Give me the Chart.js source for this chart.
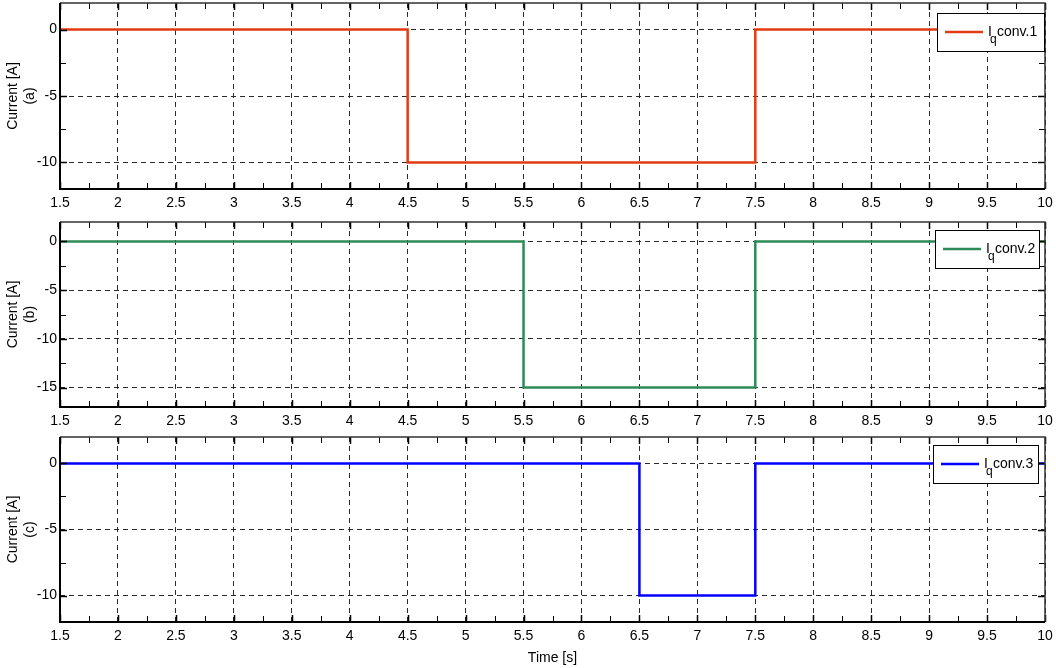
<!DOCTYPE html>
<html>
<head>
<meta charset="utf-8">
<script src="https://cdn.jsdelivr.net/npm/chart.js@4/dist/chart.umd.min.js"></script>
<style>
  html, body { margin: 0; padding: 0; background: #fff; }
  #wrap { position: relative; width: 1056px; height: 668px; overflow: hidden; }
  .panel { position: absolute; left: 0; width: 1056px; }
  canvas { display: block; }
</style>
</head>
<body>
<div id="wrap">
  <div class="panel" style="top:0px;height:215px"><canvas id="c1" width="1056" height="215"></canvas></div>
  <div class="panel" style="top:215px;height:215px"><canvas id="c2" width="1056" height="215"></canvas></div>
  <div class="panel" style="top:430px;height:238px"><canvas id="c3" width="1056" height="238"></canvas></div>
</div>
<script>
// Time axis ticks (s)
const timeTicks = [1.5, 2, 2.5, 3, 3.5, 4, 4.5, 5, 5.5, 6, 6.5, 7, 7.5, 8, 8.5, 9, 9.5, 10];
const timeMinorTicks = [1.75, 2.25, 2.75, 3.25, 3.75, 4.25, 4.75, 5.25, 5.75, 6.25, 6.75, 7.25, 7.75, 8.25, 8.75, 9.25, 9.75];

// Quadrature current reference of each converter (step changes)
const conv1Time = [1.5, 4.5, 7.5, 10];
const conv1Current = [0, -10, 0, 0];
const conv2Time = [1.5, 5.5, 7.5, 10];
const conv2Current = [0, -15, 0, 0];
const conv3Time = [1.5, 6.5, 7.5, 10];
const conv3Current = [0, -10, 0, 0];

// Current axis ticks (A)
const currentTicks1 = [-10, -5, 0];
const currentMinor1 = [-12.5, -7.5, -2.5, 2.5];
const currentTicks2 = [-15, -10, -5, 0];
const currentMinor2 = [-17.5, -12.5, -7.5, -2.5, 2.5];
const currentTicks3 = [-10, -5, 0];
const currentMinor3 = [-12.5, -7.5, -2.5, 2.5];

const FONT = 'Liberation Sans, Arial, Helvetica, sans-serif';

// Box around the plot area with inward major/minor ticks
const framePlugin = {
  id: 'frame',
  afterDatasetsDraw(chart) {
    const { ctx, chartArea: a, scales: { x, y } } = chart;
    const cfg = chart.options.plugins.frame;
    ctx.save();
    ctx.strokeStyle = '#000';
    const drawX = (vals, len, w) => {
      ctx.lineWidth = w;
      ctx.beginPath();
      vals.forEach(v => {
        const px = Math.round(x.getPixelForValue(v)) + 0.5;
        ctx.moveTo(px, a.bottom); ctx.lineTo(px, a.bottom - len);
        ctx.moveTo(px, a.top); ctx.lineTo(px, a.top + len);
      });
      ctx.stroke();
    };
    const drawY = (vals, len, w) => {
      ctx.lineWidth = w;
      ctx.beginPath();
      vals.forEach(v => {
        if (v < y.min || v > y.max) return;
        const py = Math.round(y.getPixelForValue(v)) + 0.5;
        ctx.moveTo(a.left, py); ctx.lineTo(a.left + len, py);
        ctx.moveTo(a.right, py); ctx.lineTo(a.right - len, py);
      });
      ctx.stroke();
    };
    drawX(timeTicks, 7, 1.5);
    drawX(timeMinorTicks, 6, 1);
    drawY(cfg.major, 7, 1.5);
    drawY(cfg.minor, 6, 1);
    // top and right edges
    ctx.lineWidth = 1.5;
    ctx.strokeStyle = '#333';
    ctx.beginPath();
    ctx.moveTo(a.left, a.top); ctx.lineTo(a.right, a.top); ctx.lineTo(a.right, a.bottom);
    ctx.stroke();
    // left and bottom axes
    ctx.lineWidth = 2;
    ctx.strokeStyle = '#000';
    ctx.beginPath();
    ctx.moveTo(a.left, a.top); ctx.lineTo(a.left, a.bottom); ctx.lineTo(a.right, a.bottom);
    ctx.stroke();
    ctx.restore();
  },
  afterDraw(chart) {
    // legend box: I_q conv.N
    const { ctx, chartArea: a } = chart;
    const cfg = chart.options.plugins.frame;
    const ds = chart.data.datasets[0];
    const L = a.right - cfg.legendDx, T = a.top + cfg.legendDy, W = cfg.legendW, H = 38;
    ctx.save();
    ctx.fillStyle = '#fff';
    ctx.fillRect(L, T, W, H);
    ctx.strokeStyle = '#000';
    ctx.lineWidth = 1;
    ctx.strokeRect(L + 0.5, T + 0.5, W, H);
    ctx.strokeStyle = ds.borderColor;
    ctx.lineWidth = 2.5;
    ctx.beginPath();
    ctx.moveTo(L + 8, T + 19); ctx.lineTo(L + 46, T + 19);
    ctx.stroke();
    ctx.fillStyle = '#000';
    ctx.textBaseline = 'alphabetic';
    ctx.textAlign = 'left';
    ctx.font = '14px ' + FONT;
    ctx.fillText(ds.labelMain, L + 51, T + 23);
    ctx.font = '12px ' + FONT;
    ctx.fillText(ds.labelSub, L + 53, T + 30);
    ctx.font = '14px ' + FONT;
    ctx.fillText(ds.labelRest, L + 60, T + 23);
    ctx.restore();
  }
};

function makePanel(id, p) {
  const points = p.time.map((t, i) => ({ x: t, y: p.current[i] }));
  return new Chart(document.getElementById(id), {
    type: 'line',
    data: {
      datasets: [{
        label: p.labelMain + p.labelSub + ' ' + p.labelRest,
        labelMain: p.labelMain,
        labelSub: p.labelSub,
        labelRest: p.labelRest,
        data: points,
        borderColor: p.color,
        backgroundColor: p.color,
        borderWidth: 2.5,
        pointRadius: 0,
        stepped: 'before',
        fill: false
      }]
    },
    options: {
      responsive: false,
      animation: false,
      events: [],
      layout: { padding: { top: p.padTop, right: 11, bottom: 0, left: 0 } },
      plugins: {
        legend: { display: false },
        tooltip: { enabled: false },
        frame: { major: p.yTicks, minor: p.yMinor, legendDx: p.legendDx, legendDy: p.legendDy, legendW: p.legendW }
      },
      scales: {
        x: {
          type: 'linear',
          min: 1.5, max: 10,
          afterBuildTicks: s => { s.ticks = timeTicks.map(v => ({ value: v })); },
          afterFit: s => { s.height = p.xHeight; s.paddingLeft = 0; s.paddingRight = 0; },
          ticks: {
            autoSkip: false, maxRotation: 0, padding: 6, color: '#000',
            font: { family: FONT, size: 14 },
            callback: v => String(v)
          },
          grid: { color: '#2a2a2a', lineWidth: 1, drawTicks: false },
          border: { display: false, dash: [5, 4] },
          title: p.xTitle ? {
            display: true, text: p.xTitle, color: '#000',
            font: { family: FONT, size: 14 }, padding: { top: 0, bottom: 1 }
          } : { display: false }
        },
        y: {
          type: 'linear',
          min: p.yMin, max: 2,
          afterBuildTicks: s => { s.ticks = p.yTicks.map(v => ({ value: v })); },
          afterFit: s => { s.width = 60; s.paddingTop = 0; s.paddingBottom = 0; },
          ticks: {
            padding: 3, color: '#000',
            font: { family: FONT, size: 14 },
            callback: v => String(v)
          },
          grid: { color: '#2a2a2a', lineWidth: 1, drawTicks: false },
          border: { display: false, dash: [5, 4] },
          title: {
            display: true, text: ['Current [A]', p.tag], color: '#000',
            font: { family: FONT, size: 14 }, padding: { top: 5, bottom: 0 }
          }
        }
      }
    },
    plugins: [framePlugin]
  });
}

makePanel('c1', {
  time: conv1Time, current: conv1Current, color: '#E33B12',
  labelMain: 'I', labelSub: 'q', labelRest: 'conv.1', tag: '(a)',
  yMin: -12, yTicks: currentTicks1, yMinor: currentMinor1,
  padTop: 3, xHeight: 26, legendDx: 108, legendDy: 10, legendW: 107
});
makePanel('c2', {
  time: conv2Time, current: conv2Current, color: '#2E8B57',
  labelMain: 'I', labelSub: 'q', labelRest: 'conv.2', tag: '(b)',
  yMin: -17, yTicks: currentTicks2, yMinor: currentMinor2,
  padTop: 7, xHeight: 23, legendDx: 110, legendDy: 8, legendW: 104
});
makePanel('c3', {
  time: conv3Time, current: conv3Current, color: '#0000FF',
  labelMain: 'I', labelSub: 'q', labelRest: 'conv.3', tag: '(c)',
  yMin: -12, yTicks: currentTicks3, yMinor: currentMinor3,
  padTop: 7, xHeight: 46, legendDx: 112, legendDy: 8, legendW: 105,
  xTitle: 'Time [s]'
});
</script>
</body>
</html>
